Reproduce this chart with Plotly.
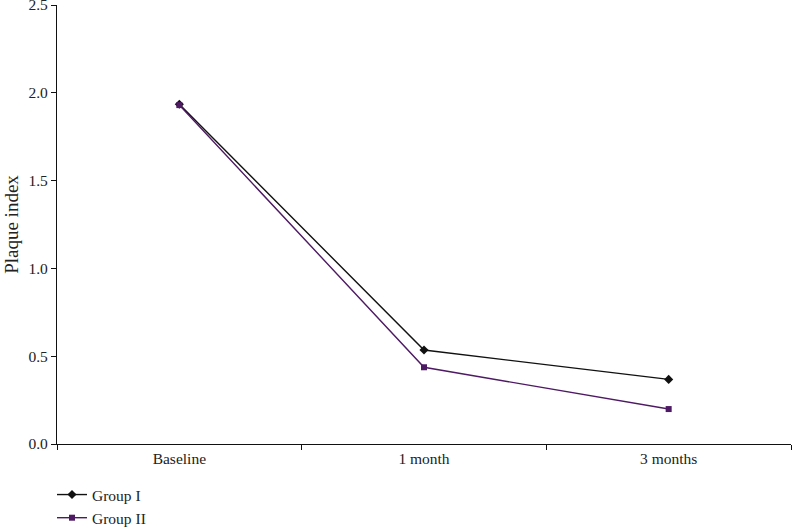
import plotly.graph_objects as go

categories = ["Baseline", "1 month", "3 months"]
group1 = [1.935, 0.535, 0.368]
group2 = [1.93, 0.437, 0.199]
y_ticks = [0.0, 0.5, 1.0, 1.5, 2.0, 2.5]

fig = go.Figure()
fig.add_trace(go.Scatter(x=categories, y=group1, name="Group I", mode="lines+markers",
                         line=dict(color="#111111", width=1.4),
                         marker=dict(symbol="diamond", size=7, color="#111111")))
fig.add_trace(go.Scatter(x=categories, y=group2, name="Group II", mode="lines+markers",
                         line=dict(color="#4e1a63", width=1.4),
                         marker=dict(symbol="square", size=6, color="#4e1a63")))

font = dict(family="Liberation Serif, Times New Roman, serif", size=15.5, color="#222222")
# figure is taller than the 529px viewport; the extra bottom strip is clipped (overflow hidden)
fig.update_layout(
    width=794, height=550,
    margin=dict(l=57, r=3, t=5, b=106),
    plot_bgcolor="white", paper_bgcolor="white",
    font=font,
    showlegend=True,
    legend=dict(x=-0.0068, xanchor="left", y=-0.0774, yanchor="top",
                orientation="v", font=font, bgcolor="rgba(0,0,0,0)", tracegroupgap=0, itemwidth=30),
    xaxis=dict(type="category", range=[-0.5, 2.5], showline=True, linecolor="#111111", linewidth=1.2,
               ticks="outside", ticklen=5, tickcolor="#111111", tickson="boundaries",
               showgrid=False, zeroline=False, automargin=False),
    yaxis=dict(range=[0, 2.5], tickvals=y_ticks, tickformat=".1f", showline=True,
               linecolor="#111111", linewidth=1.2, ticks="outside", ticklen=5, tickcolor="#111111",
               showgrid=False, zeroline=False, automargin=False, ticklabeloverflow="allow",
               title=dict(text="Plaque index", standoff=4)),
)
fig.write_html("out.html", config={"displayModeBar": False},
               post_script="document.body.style.margin='0';document.body.style.overflow='hidden';")
